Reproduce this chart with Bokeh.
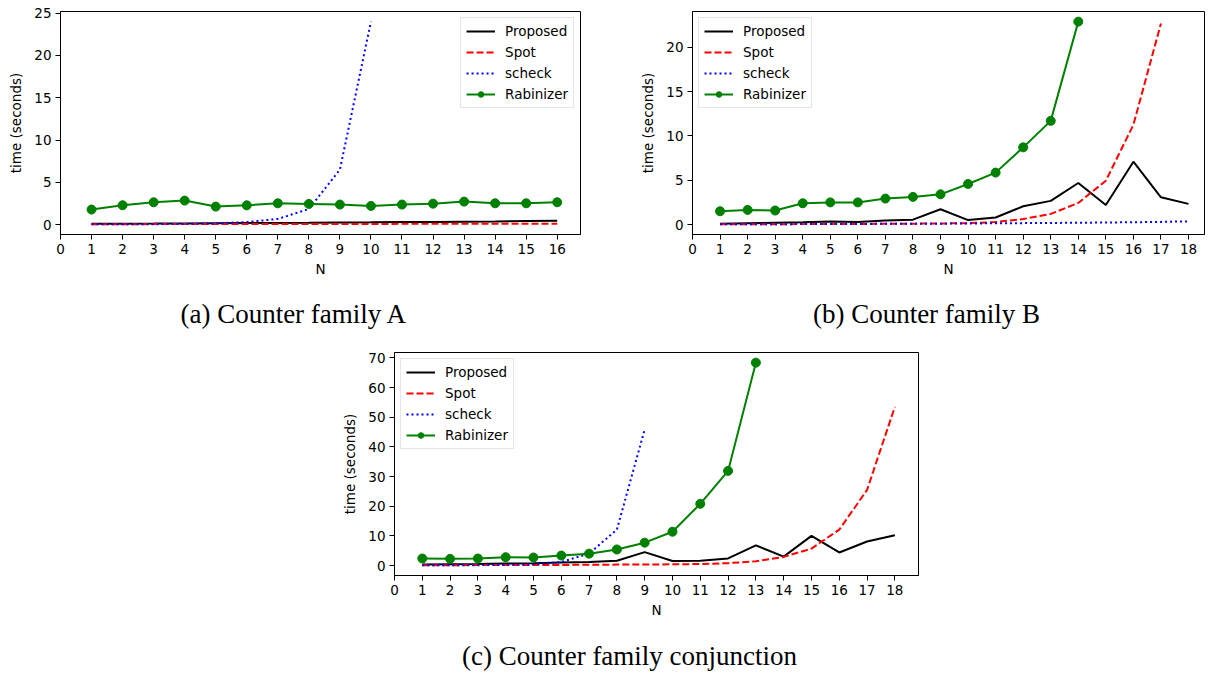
from bokeh.plotting import figure
from bokeh.models import FixedTicker, Legend, LegendItem, Range1d, Spacer
from bokeh.layouts import column, row
from bokeh.embed import file_html
from bokeh.resources import INLINE

# ---------------- data ----------------
# (a) Counter family A
a_n = list(range(1, 17))
a_proposed = [0.10, 0.11, 0.12, 0.14, 0.17, 0.19, 0.20, 0.22, 0.25, 0.27, 0.30, 0.32, 0.35, 0.38, 0.42, 0.46]
a_spot = [0.05, 0.05, 0.06, 0.06, 0.07, 0.07, 0.07, 0.08, 0.08, 0.08, 0.09, 0.09, 0.10, 0.10, 0.10, 0.11]
a_scheck_n = list(range(1, 11))
a_scheck = [0.03, 0.04, 0.05, 0.08, 0.15, 0.30, 0.67, 1.85, 6.5, 24.0]
a_rabinizer = [1.78, 2.29, 2.64, 2.84, 2.13, 2.28, 2.52, 2.45, 2.37, 2.21, 2.37, 2.48, 2.72, 2.52, 2.52, 2.64]

# (b) Counter family B
b_n = list(range(1, 19))
b_proposed = [0.10, 0.15, 0.20, 0.25, 0.35, 0.30, 0.45, 0.55, 1.72, 0.50, 0.79, 2.06, 2.67, 4.69, 2.20, 7.09, 3.07, 2.33]
b_spot_n = list(range(1, 18))
b_spot = [0.02, 0.03, 0.04, 0.05, 0.06, 0.07, 0.08, 0.10, 0.12, 0.16, 0.28, 0.62, 1.20, 2.44, 4.95, 11.26, 22.7]
b_scheck = [0.02, 0.03, 0.04, 0.05, 0.06, 0.07, 0.08, 0.09, 0.10, 0.12, 0.14, 0.16, 0.18, 0.20, 0.23, 0.26, 0.30, 0.36]
b_rabinizer_n = list(range(1, 15))
b_rabinizer = [1.50, 1.65, 1.58, 2.40, 2.50, 2.50, 2.93, 3.12, 3.41, 4.58, 5.86, 8.71, 11.70, 22.90]

# (c) Counter family conjunction
c_n = list(range(1, 19))
c_proposed = [0.3, 0.4, 0.5, 0.7, 0.8, 1.0, 1.2, 1.6, 4.5, 1.5, 1.6, 2.4, 6.8, 3.0, 10.0, 4.4, 8.1, 10.2]
c_spot = [0.1, 0.1, 0.15, 0.15, 0.2, 0.2, 0.25, 0.3, 0.35, 0.4, 0.5, 0.8, 1.4, 2.9, 5.7, 12.1, 25.5, 53.5]
c_scheck_n = list(range(1, 10))
c_scheck = [0.05, 0.08, 0.12, 0.2, 0.4, 1.2, 4.0, 12.1, 45.9]
c_rabinizer_n = list(range(1, 14))
c_rabinizer = [2.35, 2.24, 2.35, 2.8, 2.7, 3.36, 4.0, 5.4, 7.7, 11.4, 20.8, 31.9, 68.4]

series_labels = ["Proposed", "Spot", "scheck", "Rabinizer"]
captions = ["(a) Counter family A", "(b) Counter family B", "(c) Counter family conjunction"]

a_xticks = list(range(0, 17))
b_xticks = list(range(0, 19))
c_xticks = list(range(0, 19))
a_yticks = [0, 5, 10, 15, 20, 25]
b_yticks = [0, 5, 10, 15, 20]
c_yticks = [0, 10, 20, 30, 40, 50, 60, 70]

FONT = "DejaVu Sans"
FS = "13.5px"


def make_panel(data, xticks, yticks, xmax, legend_loc, fw, fh, lb, rb, tb, bb):
    (np_, yp), (ns, ys), (nc, yc), (nr, yr) = data
    all_y = list(yp) + list(ys) + list(yc) + list(yr)
    ymin, ymax = min(all_y), max(all_y)
    pad = 0.05 * (ymax - ymin)
    p = figure(frame_width=fw, frame_height=fh,
               x_range=Range1d(0, xmax), y_range=Range1d(ymin - pad, ymax + pad),
               output_backend="svg", toolbar_location=None, title=None,
               min_border_left=lb, min_border_right=rb,
               min_border_top=tb, min_border_bottom=bb)
    p.background_fill_color = "white"
    p.border_fill_color = "white"
    p.outline_line_color = "black"
    p.outline_line_width = 1
    p.xgrid.visible = False
    p.ygrid.visible = False

    r1 = p.line(np_, yp, line_color="#000000", line_width=2)
    r2 = p.line(ns, ys, line_color="#ff0000", line_width=2, line_dash="7 3")
    r3 = p.line(nc, yc, line_color="#0000ff", line_width=2, line_dash="2 3")
    r4 = p.line(nr, yr, line_color="#008000", line_width=2)
    r5 = p.scatter(nr, yr, marker="circle", size=9, fill_color="#008000", line_color="#008000")

    for ax in (p.xaxis[0], p.yaxis[0]):
        ax.axis_line_color = "black"
        ax.major_tick_line_color = "black"
        ax.major_tick_out = 5
        ax.major_tick_in = 0
        ax.minor_tick_line_color = None
        ax.major_label_text_font = FONT
        ax.major_label_text_font_size = FS
        ax.major_label_text_color = "black"
        ax.axis_label_text_font = FONT
        ax.axis_label_text_font_size = FS
        ax.axis_label_text_font_style = "normal"
        ax.axis_label_text_color = "black"
        ax.major_label_standoff = 4
    p.xaxis[0].ticker = FixedTicker(ticks=xticks)
    p.yaxis[0].ticker = FixedTicker(ticks=yticks)
    p.xaxis[0].axis_label = "N"
    p.xaxis[0].axis_label_standoff = 4
    p.yaxis[0].axis_label = "time (seconds)"
    p.yaxis[0].axis_label_standoff = 7

    legend = Legend(items=[
        LegendItem(label=series_labels[0], renderers=[r1]),
        LegendItem(label=series_labels[1], renderers=[r2]),
        LegendItem(label=series_labels[2], renderers=[r3]),
        LegendItem(label=series_labels[3], renderers=[r4, r5]),
    ], location=legend_loc)
    legend.label_text_font = FONT
    legend.label_text_font_size = FS
    legend.label_text_color = "black"
    legend.border_line_color = "#cccccc"
    legend.border_line_width = 1
    legend.background_fill_color = "white"
    legend.background_fill_alpha = 0.8
    legend.glyph_width = 29
    legend.glyph_height = 14
    legend.label_height = 14
    legend.label_standoff = 10
    legend.spacing = 5
    legend.padding = 5
    legend.margin = 6
    p.add_layout(legend)
    return p


def make_caption(text, width, height, top):
    c = figure(width=width, height=height, title=text, title_location="above",
               x_axis_type=None, y_axis_type=None, output_backend="svg",
               toolbar_location=None, min_border_left=0, min_border_right=0,
               min_border_top=top, min_border_bottom=0)
    c.outline_line_color = None
    c.background_fill_color = "white"
    c.border_fill_color = "white"
    c.title.align = "center"
    c.title.vertical_align = "bottom"
    c.title.standoff = 0
    c.title.text_font = "Liberation Serif"
    c.title.text_font_size = "27px"
    c.title.text_font_style = "normal"
    c.title.text_color = "black"
    return c


pa = make_panel([(a_n, a_proposed), (a_n, a_spot), (a_scheck_n, a_scheck), (a_n, a_rabinizer)],
                a_xticks, a_yticks, 16.75, "top_right", 520, 223, 60, 56, 11, 50)
pb = make_panel([(b_n, b_proposed), (b_spot_n, b_spot), (b_n, b_scheck), (b_rabinizer_n, b_rabinizer)],
                b_xticks, b_yticks, 18.58, "top_left", 512, 223, 56, 3, 11, 50)
pc = make_panel([(c_n, c_proposed), (c_n, c_spot), (c_scheck_n, c_scheck), (c_rabinizer_n, c_rabinizer)],
                c_xticks, c_yticks, 18.85, "top_left", 524, 223, 60, 4, 6, 50)

cap_a = make_caption(captions[0], 587, 62, 44)
cap_b = make_caption(captions[1], 500, 62, 44)
cap_c = make_caption(captions[2], 500, 50, 45)

layout = column(
    row(pa, pb),
    row(cap_a, Spacer(width=89, height=62), cap_b),
    row(Spacer(width=334, height=10), pc),
    row(Spacer(width=379, height=10), cap_c),
)

with open("out.html", "w") as f:
    f.write(file_html(layout, INLINE))
